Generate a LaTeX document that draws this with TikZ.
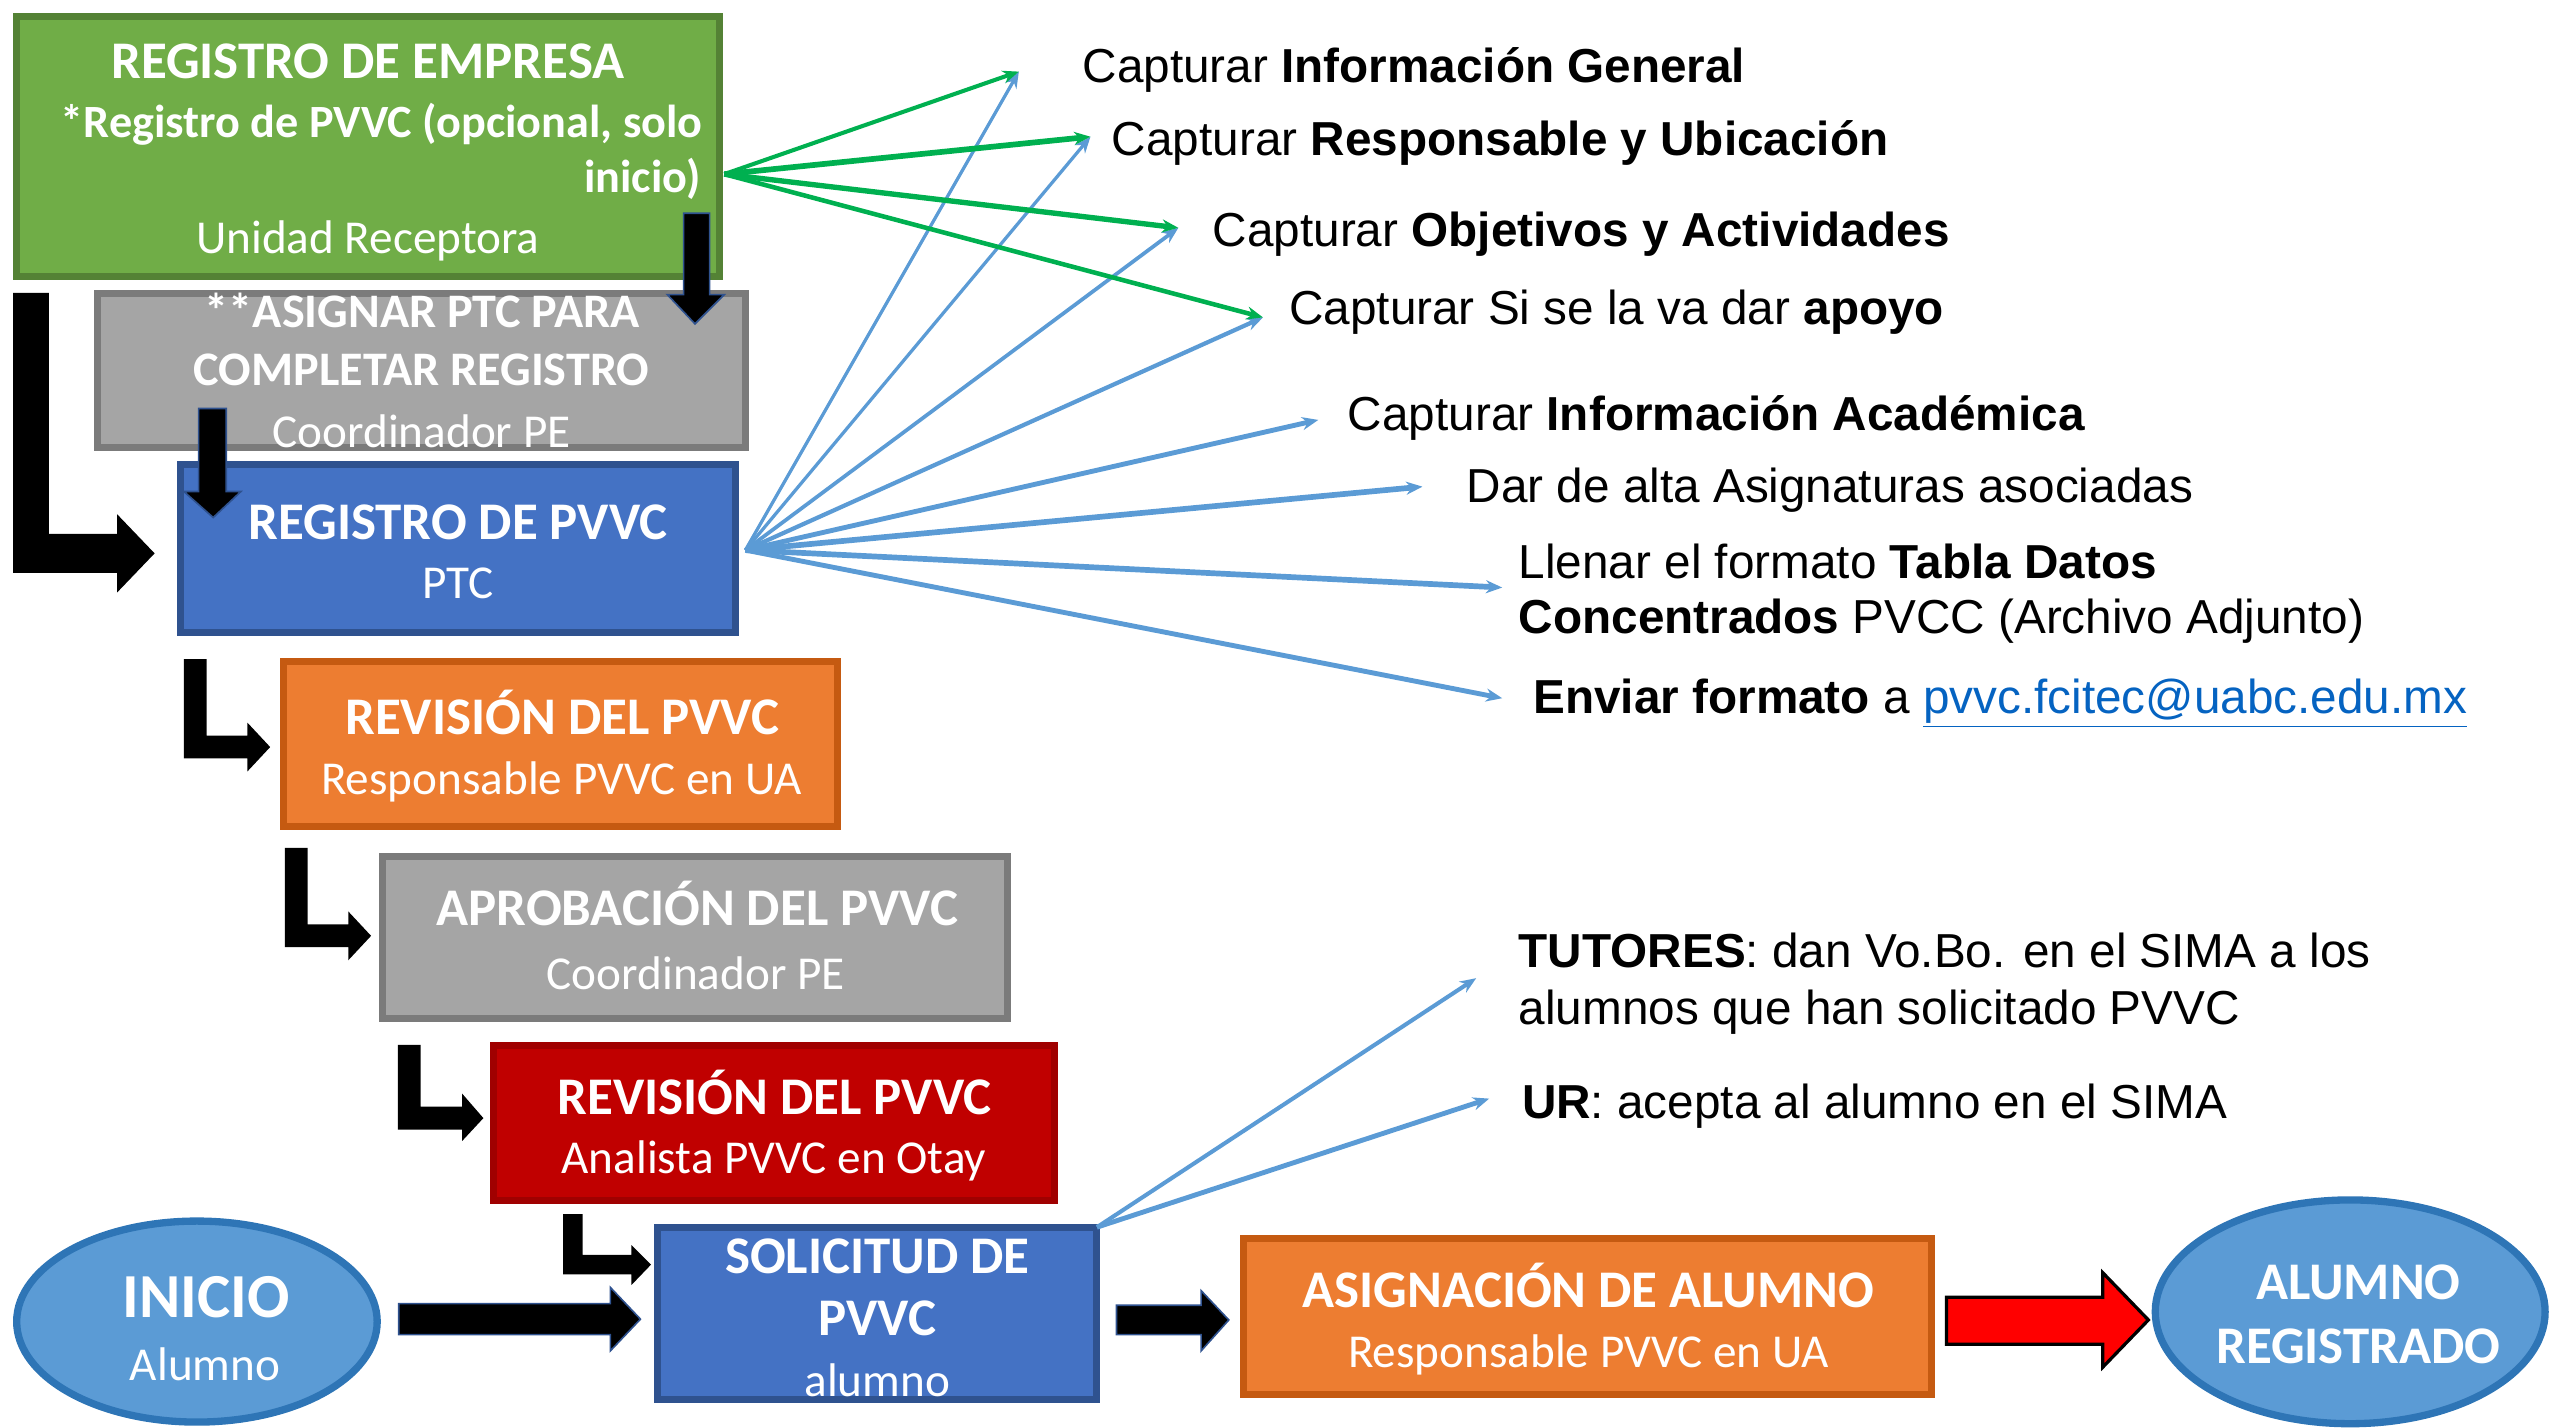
\documentclass[tikz,border=0pt]{standalone}
\usepackage{fontspec}
\setmainfont{Liberation Sans}
\newfontfamily\carl{Carlito}
\usetikzlibrary{shapes.geometric,arrows.meta}
\definecolor{gfill}{HTML}{70AD47}
\definecolor{gdraw}{HTML}{548235}
\definecolor{yfill}{HTML}{A5A5A5}
\definecolor{ydraw}{HTML}{7B7B7B}
\definecolor{bfill}{HTML}{4472C4}
\definecolor{bdraw}{HTML}{2F528F}
\definecolor{ofill}{HTML}{ED7D31}
\definecolor{odraw}{HTML}{C55A11}
\definecolor{rfill}{HTML}{C00000}
\definecolor{rdraw}{HTML}{A00000}
\definecolor{efill}{HTML}{5B9BD5}
\definecolor{edraw}{HTML}{2E75B6}
\definecolor{gline}{HTML}{00B050}
\definecolor{bline}{HTML}{5B9BD5}
\definecolor{linkc}{HTML}{0563C1}
\newcommand\ttlfont{\carl\bfseries\fontsize{32.5}{39}\selectfont}
\newcommand\subfont{\carl\fontsize{29}{35}\selectfont}
\newcommand\rfont{\fontsize{29.3}{35}\selectfont}
\begin{document}
\begin{tikzpicture}[x=1pt,y=-1pt,
  boxs/.style={rectangle, inner sep=0pt, outer sep=0pt, line width=4.3pt},
  ells/.style={ellipse, inner sep=0pt, outer sep=0pt, line width=4.5pt, fill=efill, draw=edraw},
  ttl/.style={font=\ttlfont, text=white, anchor=base, inner sep=0pt},
  sttl/.style={font=\carl\bfseries\fontsize{28.4}{34}\selectfont, text=white, anchor=base, inner sep=0pt},
  mttl/.style={font=\carl\bfseries\fontsize{29.6}{35}\selectfont, text=white, anchor=base, inner sep=0pt},
  sub/.style={font=\subfont, text=white, anchor=base, inner sep=0pt},
  rtxt/.style={font=\rfont, text=black, anchor=base west, inner sep=0pt},
  blk/.style={fill=black, draw=bdraw, line width=1pt, line join=miter},
  lblk/.style={fill=black, draw=none},
  garr/.style={draw=gline, -{Stealth[length=10pt,width=8pt]}},
  barr/.style={draw=bline, -{Stealth[length=10pt,width=8pt]}}]
\useasboundingbox (0,0) rectangle (1568,877);

% boxes
\node[boxs, fill=gfill, draw=gdraw, minimum width=431.7pt, minimum height=159.7pt] (reg) at (226,90) {};
\node[boxs, fill=yfill, draw=ydraw, minimum width=397.7pt, minimum height=94.7pt] (asig) at (259,227.5) {};
\node[boxs, fill=bfill, draw=bdraw, minimum width=340.7pt, minimum height=103.7pt] (ptc) at (281.5,337) {};
\node[boxs, fill=ofill, draw=odraw, minimum width=340.7pt, minimum height=101.7pt] (rev1) at (344.5,457) {};
\node[boxs, fill=yfill, draw=ydraw, minimum width=383.7pt, minimum height=99.7pt] (apr) at (427,576) {};
\node[boxs, fill=rfill, draw=rdraw, minimum width=344.7pt, minimum height=95.7pt] (rev2) at (475.5,690) {};
\node[boxs, fill=bfill, draw=bdraw, minimum width=269.7pt, minimum height=105.7pt] (sol) at (539,807) {};
\node[boxs, fill=ofill, draw=odraw, minimum width=422.7pt, minimum height=95.7pt] (asg) at (975.5,809) {};
\node[ells, minimum width=221.5pt, minimum height=123.5pt] (ini) at (121,812) {};
\node[ells, minimum width=239.5pt, minimum height=137.5pt] (fin) at (1444,806) {};

% block arrows
\draw[lblk] (8,180) -- (30,180) -- (30,328) -- (72,328) -- (72,316) -- (95,340) -- (72,364) -- (72,352) -- (8,352) -- cycle;
\draw[blk] (420,131) -- (436,131) -- (436,181) -- (445,181) -- (427,199) -- (410,181) -- (420,181) -- cycle;
\draw[blk] (122,251) -- (139,251) -- (139,302) -- (148,302) -- (131,318) -- (113,302) -- (122,302) -- cycle;
\draw[lblk] (113,405) -- (127,405) -- (127,452) -- (152,452) -- (152,444) -- (166,459) -- (152,474) -- (152,466) -- (113,466) -- cycle;
\draw[lblk] (175,521) -- (189,521) -- (189,568) -- (214,568) -- (214,560) -- (228,575) -- (214,590) -- (214,582) -- (175,582) -- cycle;
\draw[lblk] (244.5,642) -- (258.5,642) -- (258.5,680) -- (284,680) -- (284,672) -- (297,687) -- (284,701) -- (284,694) -- (244.5,694) -- cycle;
\draw[lblk] (346,746) -- (358,746) -- (358,771) -- (388,771) -- (388,765) -- (400,777) -- (388,789.5) -- (388,783) -- (346,783) -- cycle;
\draw[blk] (245,801) -- (375,801) -- (375,791) -- (393.5,810.5) -- (375,830) -- (375,820) -- (245,820) -- cycle;
\draw[blk] (686,802) -- (738,802) -- (738,793) -- (755,811) -- (738,830) -- (738,820) -- (686,820) -- cycle;
\draw[fill=red, draw=black, line width=2pt, line join=miter] (1196,797) -- (1292,797) -- (1292,782) -- (1320,811) -- (1292,840) -- (1292,826) -- (1196,826) -- cycle;

% box texts
\node[ttl] (reg1) at (226,48.5) {REGISTRO DE EMPRESA};
\node[sttl] (reg2) at (234.5,84.5) {*Registro de PVVC (opcional, solo};
\node[sttl, anchor=base east] (reg3) at (431,118.5) {inicio)};
\node[sub] (reg4) at (226,156) {Unidad Receptora};
\node[mttl] (asig1) at (259.5,201) {**ASIGNAR PTC PARA};
\node[mttl] (asig2) at (259,237) {COMPLETAR REGISTRO};
\node[sub] (asig3) at (259,275) {Coordinador PE};
\node[ttl] (ptc1) at (281.5,331.5) {REGISTRO DE PVVC};
\node[sub] (ptc2) at (281.5,368) {PTC};
\node[ttl] (rev11) at (345.5,451.5) {REVISIÓN DEL PVVC};
\node[sub] (rev12) at (345,488) {Responsable PVVC en UA};
\node[ttl] (apr1) at (428.5,568.5) {APROBACIÓN DEL PVVC};
\node[sub] (apr2) at (427.5,608) {Coordinador PE};
\node[ttl] (rev21) at (476,684.5) {REVISIÓN DEL PVVC};
\node[sub] (rev22) at (475.5,721) {Analista PVVC en Otay};
\node[ttl] (sol1) at (539,782.5) {SOLICITUD DE};
\node[ttl] (sol2) at (539,820.5) {PVVC};
\node[sub] (sol3) at (539,858) {alumno};
\node[ttl, font=\carl\bfseries\fontsize{38.5}{44}\selectfont] (ini1) at (126.5,809.5) {INICIO};
\node[sub] (ini2) at (126,848) {Alumno};
\node[ttl] (asg1) at (976,803.5) {ASIGNACIÓN DE ALUMNO};
\node[sub] (asg2) at (976,840) {Responsable PVVC en UA};
\node[ttl] (fin1) at (1449,798.5) {ALUMNO};
\node[ttl] (fin2) at (1449,837.5) {REGISTRADO};

% right texts
\node[rtxt] (c1) at (665,50.5) {Capturar \textbf{Información General}};
\node[rtxt] (c2) at (683,95.5) {Capturar \textbf{Responsable y Ubicación}};
\node[rtxt] (c3) at (745,151.5) {Capturar \textbf{Objetivos y Actividades}};
\node[rtxt] (c4) at (792,199.5) {Capturar Si se la va dar \textbf{apoyo}};
\node[rtxt] (c5) at (828,264.5) {Capturar \textbf{Información Académica}};
\node[rtxt] (c6) at (901,308.5) {Dar de alta Asignaturas asociadas};
\node[rtxt] (c7) at (933,355.5) {Llenar el formato \textbf{Tabla Datos}};
\node[rtxt] (c8) at (933,389.5) {\textbf{Concentrados} PVCC (Archivo Adjunto)};
\node[rtxt] (c9) at (942,438.5) {\textbf{Enviar formato} a \textcolor{linkc}{\underline{pvvc.fcitec@uabc.edu.mx}}};
\node[rtxt] (t1) at (933,594.5) {\textbf{TUTORES}: dan Vo.Bo. en el SIMA a los};
\node[rtxt] (t2) at (933,629.5) {alumnos que han solicitado PVVC};
\node[rtxt] (u1) at (935,687.5) {\textbf{UR}: acepta al alumno en el SIMA};

% connector ends
\coordinate (gsrc) at (445,107);
\coordinate (bsrc) at (458,338);
\coordinate (ssrc) at (674,754);
\coordinate (g1) at (626,44);
\coordinate (g2) at (670,84);
\coordinate (g3) at (724,140);
\coordinate (g4) at (776,195);
\coordinate (b1) at (810,258);
\coordinate (b2) at (874,299);
\coordinate (b3) at (923,361);
\coordinate (b4) at (923,429);
\coordinate (s1) at (907,601);
\coordinate (s2) at (915,675);

\draw[barr, line width=2pt] (bsrc) -- (g1);
\draw[barr, line width=2pt] (bsrc) -- (g2);
\draw[barr, line width=2.3pt] (bsrc) -- (g3);
\draw[barr, line width=2.6pt] (bsrc) -- (g4);
\draw[barr, line width=3pt] (bsrc) -- (b1);
\draw[barr, line width=3.5pt] (bsrc) -- (b2);
\draw[barr, line width=3.5pt] (bsrc) -- (b3);
\draw[barr, line width=3pt] (bsrc) -- (b4);
\draw[garr, line width=2.5pt] (gsrc) -- (g1);
\draw[garr, line width=3.5pt] (gsrc) -- (g2);
\draw[garr, line width=3.3pt] (gsrc) -- (g3);
\draw[garr, line width=2.8pt] (gsrc) -- (g4);
\draw[barr, line width=2.5pt] (ssrc) -- (s1);
\draw[barr, line width=3pt] (ssrc) -- (s2);
\end{tikzpicture}
\end{document}
